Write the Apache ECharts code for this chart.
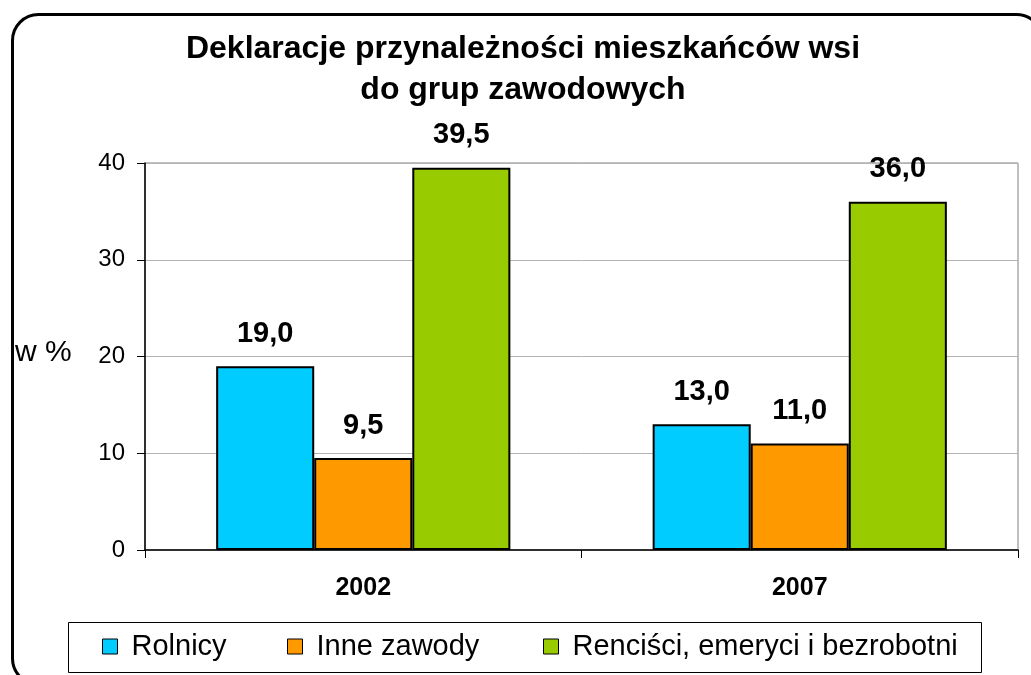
<!DOCTYPE html>
<html>
<head>
<meta charset="utf-8">
<script src="https://cdn.jsdelivr.net/npm/echarts@6/dist/echarts.min.js"></script>
<style>
    html, body { margin: 0; padding: 0; background: #fff; }
    #chart { width: 1031px; height: 675px; }
</style>
</head>
<body>
<div id="chart"></div>
<script>
    // dane z wykresu
    var years = ['2002', '2007'];
    var rolnicy = [19.0, 13.0];
    var inneZawody = [9.5, 11.0];
    var rencisci = [39.5, 36.0];
    var seriesNames = ['Rolnicy', 'Inne zawody', 'Renciści, emeryci i bezrobotni'];
    var yMin = 0, yMax = 40, yStep = 10;

    var font = '"Liberation Sans", Arial, sans-serif';
    var colors = ['#00CCFF', '#FF9900', '#99CC00'];

    function fmt(p) {
        return p.value.toFixed(1).replace('.', ',');
    }

    function makeSeries(name, data, color) {
        return {
            type: 'bar',
            name: name,
            data: data,
            barGap: '0%',
            barCategoryGap: '32.6%',
            itemStyle: { color: color, borderColor: '#000', borderWidth: 2 },
            label: {
                show: true, position: 'top', distance: 18,
                formatter: fmt,
                color: '#000', fontFamily: font, fontWeight: 'bold', fontSize: 29
            }
        };
    }

    function makeLegend(name, left) {
        return {
            data: [name],
            left: left, top: 632,
            padding: 0,
            itemWidth: 15, itemHeight: 15,
            icon: 'rect',
            itemStyle: { borderColor: '#000', borderWidth: 1 },
            textStyle: { color: '#000', fontFamily: font, fontSize: 29, padding: [0, 0, 0, 9] }
        };
    }

    var myChart = echarts.init(document.getElementById('chart'));
    myChart.setOption({
        animation: false,
        backgroundColor: '#fff',
        title: {
            text: 'Deklaracje przynależności mieszkańców wsi\ndo grup zawodowych',
            left: 518, top: 24, textAlign: 'center',
            textStyle: { color: '#000', fontFamily: font, fontWeight: 'bold', fontSize: 32, lineHeight: 41 }
        },
        legend: [
            makeLegend(seriesNames[0], 102),
            makeLegend(seriesNames[1], 287),
            makeLegend(seriesNames[2], 543)
        ],
        grid: {
            left: 145, right: 13, top: 163, bottom: 125,
            show: true, borderColor: '#808080', borderWidth: 1
        },
        xAxis: {
            type: 'category',
            data: years,
            axisLine: { show: true, lineStyle: { color: '#000', width: 1.5 } },
            axisTick: { show: true, length: 8, lineStyle: { color: '#000' } },
            axisLabel: { color: '#000', fontFamily: font, fontWeight: 'bold', fontSize: 25, margin: 26 }
        },
        yAxis: {
            type: 'value',
            min: yMin, max: yMax, interval: yStep,
            axisLine: { show: true, lineStyle: { color: '#000', width: 1.5 } },
            axisTick: { show: true, length: 8, lineStyle: { color: '#000' } },
            axisLabel: { color: '#000', fontFamily: font, fontSize: 24, margin: 20 },
            splitLine: { show: true, lineStyle: { color: '#b4b4b4', width: 1 } }
        },
        series: [
            makeSeries(seriesNames[0], rolnicy, colors[0]),
            makeSeries(seriesNames[1], inneZawody, colors[1]),
            makeSeries(seriesNames[2], rencisci, colors[2])
        ],
        graphic: [
            {
                type: 'rect', silent: true,
                shape: { x: 12.5, y: 14.5, width: 1030, height: 670, r: 26 },
                style: { fill: null, stroke: '#000', lineWidth: 3 }
            },
            {
                type: 'rect', silent: true,
                shape: { x: 68.5, y: 622.5, width: 913, height: 50 },
                style: { fill: null, stroke: '#000', lineWidth: 1 }
            },
            {
                type: 'text', silent: true,
                left: 15, top: 338,
                style: { text: 'w %', fill: '#000', font: '30px ' + font }
            }
        ]
    });
</script>
</body>
</html>
